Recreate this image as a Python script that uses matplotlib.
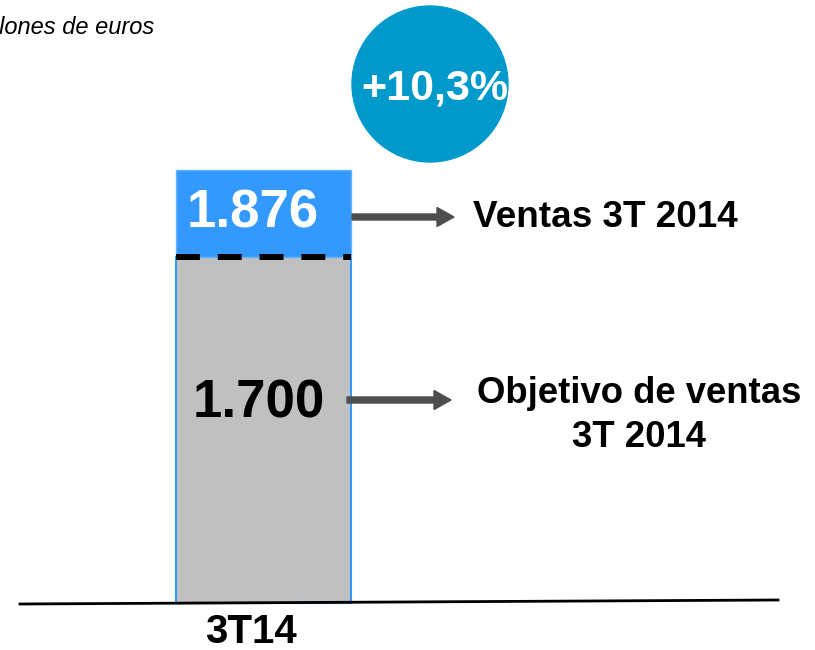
# Ventas 3T 2014 frente al objetivo (barra apilada con eje truncado)

import matplotlib.pyplot as plt
from matplotlib.patches import Circle

plt.rcParams['font.family'] = ['Liberation Sans', 'DejaVu Sans']

categories = ['3T14']
objetivo = [1700]
ventas = [1876]
crecimiento = '+10,3%'
unidad = 'Millones de euros'
etiqueta_ventas = 'Ventas 3T 2014'
etiqueta_objetivo = ['Objetivo de ventas', '3T 2014']
base = 1000  # el eje vertical no empieza en cero


def fmt(v):
    return f'{v:,}'.replace(',', '.')


fig = plt.figure(figsize=(8.15, 6.5), dpi=100)

# Ejes de la barra
ax = fig.add_axes([0, 0, 1, 1])
ax.set_xlim(-1.506, 3.151)
ax.set_ylim(905, 2221)
ax.axis('off')

x = list(range(len(categories)))
ax.bar(x, [o - base for o in objetivo], bottom=base, width=1,
       color='#C0C0C0', edgecolor='#3399FF', lw=1.5, zorder=2)
ax.bar(x, [v - o for v, o in zip(ventas, objetivo)], bottom=objetivo, width=1,
       color='#3399FF', edgecolor='#66B2FF', lw=1, zorder=2)
ax.hlines(objetivo, -0.5, 0.5, colors='black', lw=4.3,
          linestyles=(0, (4, 3)), zorder=3)

# Capa de anotaciones en pixeles
ov = fig.add_axes([0, 0, 1, 1])
ov.set_xlim(0, 815)
ov.set_ylim(650, 0)
ov.axis('off')

ov.plot([20, 778], [604, 600], color='black', lw=2)

ov.add_patch(Circle((430, 84), 78, color='#0099CC'))
ov.text(435, 100, crecimiento, ha='center', va='baseline', fontsize=31,
        weight='bold', color='white')

ov.text(253, 227, fmt(ventas[0]), ha='center', va='baseline', fontsize=38,
        weight='bold', color='white')
ov.text(259, 418, fmt(objetivo[0]), ha='center', va='baseline', fontsize=38,
        weight='bold', color='black')

ov.arrow(352, 217, 102, 0, width=6, head_width=19, head_length=17,
         length_includes_head=True, color='#4D4D4D')
ov.arrow(347, 400, 104, 0, width=6, head_width=19, head_length=17,
         length_includes_head=True, color='#4D4D4D')

ov.text(473, 227, etiqueta_ventas, ha='left', va='baseline', fontsize=26.6,
        weight='bold')
ov.text(639, 403, etiqueta_objetivo[0], ha='center', va='baseline',
        fontsize=26.3, weight='bold')
ov.text(639, 447, etiqueta_objetivo[1], ha='center', va='baseline',
        fontsize=26.3, weight='bold')

ov.text(251, 643, categories[0], ha='center', va='baseline', fontsize=29,
        weight='bold')
ov.text(154, 34, unidad, ha='right', va='baseline', fontsize=17,
        style='italic')

fig.savefig('out.png', dpi=100)
